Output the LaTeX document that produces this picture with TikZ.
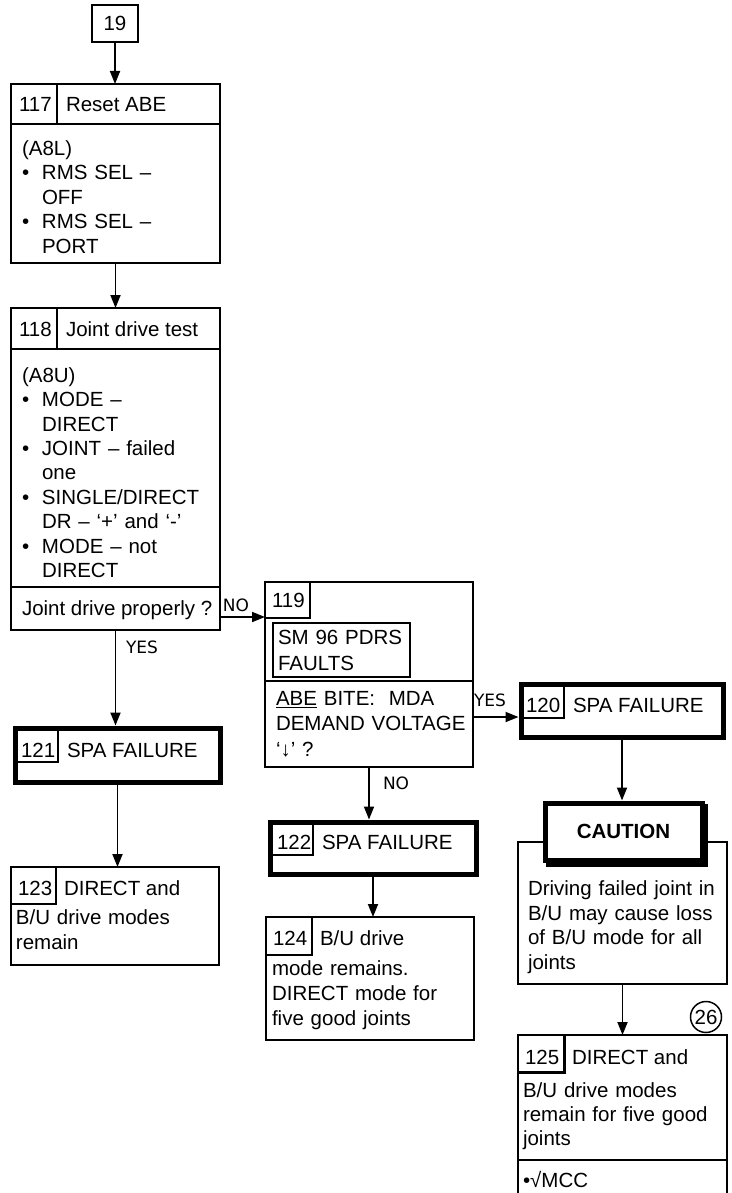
\documentclass[tikz,border=0pt]{standalone}
\usepackage{fontspec}
\setmainfont{Liberation Sans}
\newfontfamily\lblfont{DejaVu Sans}
\usetikzlibrary{arrows.meta}
\begin{document}
\begin{tikzpicture}[x=1pt,y=-1pt,
  every node/.style={inner sep=0pt, outer sep=0pt},
  txt/.style={anchor=base west, font=\fontsize{20.5}{24.5}\selectfont},
  blk/.style={anchor=base west, align=left, text width=200pt, font=\fontsize{20.5}{#1}\selectfont},
  box/.style={draw, line width=2pt, anchor=north west},
  thickbox/.style={draw, line width=5pt, anchor=north west, outer sep=2.5pt},
  thin/.style={line width=1.2pt},
  divider/.style={line width=2pt},
  arr/.style={line width=1.8pt, -{Triangle[length=13pt,width=10pt]}},
  lbl/.style={font=\lblfont\fontsize{17}{20}\selectfont},
]
\useasboundingbox (0,0) rectangle (731,1193);
\clip (0,0) rectangle (731,1193);
\fill[white] (0,0) rectangle (731,1193);

% ---- 19
\node[box, minimum width=46pt, minimum height=37pt, font=\fontsize{20.5}{24.5}\selectfont] (n19) at (92,5) {19};

% ---- 117
\node[box, minimum width=209pt, minimum height=179pt] (b117) at (11,84) {};
\draw[divider] (11,124) -- (220,124);
\draw[divider] (57,84) -- (57,124);
\node[txt] (h117n) at (19,111.3) {117};
\node[txt] (h117t) at (66,111.3) {Reset ABE};
\node[blk=24.5pt] (t117) at (22,155.3) {(A8L)\\
\makebox[20pt][l]{•}RMS SEL –\\
\hspace*{20pt}OFF\\
\makebox[20pt][l]{•}RMS SEL –\\
\hspace*{20pt}PORT};

% ---- 118
\node[box, minimum width=209pt, minimum height=322pt] (b118) at (11,308) {};
\draw[divider] (11,349) -- (220,349);
\draw[divider] (57,308) -- (57,349);
\draw[divider] (11,587) -- (220,587);
\node[txt] (h118n) at (19,336) {118};
\node[txt] (h118t) at (66,336) {Joint drive test};
\node[blk=24.4pt] (t118) at (22,382.3) {(A8U)\\
\makebox[20pt][l]{•}MODE –\\
\hspace*{20pt}DIRECT\\
\makebox[20pt][l]{•}JOINT – failed\\
\hspace*{20pt}one\\
\makebox[20pt][l]{•}SINGLE/DIRECT\\
\hspace*{20pt}DR – ‘+’ and ‘-’\\
\makebox[20pt][l]{•}MODE – not\\
\hspace*{20pt}DIRECT};
\node[txt] (q118) at (22,615.3) {Joint drive properly ?};

% ---- 119
\node[box, minimum width=208pt, minimum height=185pt] (b119) at (265,582) {};
\draw[thin] (265,618) -- (310,618) -- (310,582);
\node[txt] (h119n) at (272,607) {119};
\node[box, minimum width=137pt, minimum height=54pt] (sm96) at (273,623) {};
\node[blk=26pt] (tsm) at (278,644) {SM 96 PDRS\\FAULTS};
\draw[divider] (265,681) -- (473,681);
\node[blk=25.5pt] (q119) at (276,705.3) {\underline{ABE} BITE:\ \ MDA\\
DEMAND VOLTAGE\\
‘↓’ ?};

% ---- 120
\node[thickbox, minimum width=202pt, minimum height=53pt] (b120) at (518.5,681.5) {};
\draw[thin] (521,718) -- (564,718) -- (564,684);
\node[txt] (h120n) at (526,712) {120};
\node[txt] (h120t) at (573,712) {SPA FAILURE};

% ---- 121
\node[thickbox, minimum width=205pt, minimum height=54pt] (b121) at (12.5,725.5) {};
\draw[thin] (15,762) -- (58,762) -- (58,728);
\node[txt] (h121n) at (21,757) {121};
\node[txt] (h121t) at (67,757) {SPA FAILURE};

% ---- 122
\node[thickbox, minimum width=206pt, minimum height=52pt] (b122) at (267.5,819.5) {};
\draw[thin] (270,855) -- (313,855) -- (313,822);
\node[txt] (h122n) at (277,849) {122};
\node[txt] (h122t) at (322,849) {SPA FAILURE};

% ---- 123
\node[box, minimum width=208pt, minimum height=98pt] (b123) at (11,867) {};
\draw[thin] (11,904) -- (56,904) -- (56,867);
\node[txt] (h123n) at (18,895) {123};
\node[txt] (h123t) at (64,895) {DIRECT and};
\node[blk=25pt] (t123) at (16,924.3) {B/U drive modes\\remain};

% ---- 124
\node[box, minimum width=208pt, minimum height=123pt] (b124) at (266,917) {};
\draw[thin] (266,955) -- (312,955) -- (312,917);
\node[txt] (h124n) at (273,945) {124};
\node[txt] (h124t) at (320,945) {B/U drive};
\node[blk=25pt] (t124) at (272,975.3) {mode remains.\\DIRECT mode for\\five good joints};

% ---- caution
\node[box, minimum width=209pt, minimum height=142pt] (cbody) at (518,842) {};
\node[blk=24.8pt] (tcau) at (528,895.3) {Driving failed joint in\\B/U may cause loss\\of B/U mode for all\\joints};
\fill[black] (546,804) rectangle (708,867);
\node[draw, line width=5pt, fill=white, anchor=north west, outer sep=2.5pt, minimum width=157pt, minimum height=57pt, font=\bfseries\fontsize{20.5}{24.5}\selectfont] (caut) at (542.5,800.5) {CAUTION};

% ---- 125
\node[box, minimum width=209pt, minimum height=200pt] (b125) at (518,1035) {};
\draw[line width=3pt] (518,1072) -- (564,1072) -- (564,1035);
\node[txt] (h125n) at (525,1064) {125};
\node[txt] (h125t) at (572,1064) {DIRECT and};
\node[blk=24pt] (t125) at (523,1097.3) {B/U drive modes\\remain for five good\\joints};
\draw[divider] (518,1160) -- (727,1160);
\node[txt] (m125) at (523,1187) {•√MCC};
\node[draw, circle, line width=1.5pt, minimum size=31pt, font=\fontsize{20.5}{24.5}\selectfont] (c26) at (706,1017) {26};

% ---- connectors
\draw[arr] (n19.south) -- (n19.south |- b117.north);
\draw[arr] (b117.south) -- (b118.north);
\draw[arr] (b118.south) -- (b118.south |- b121.north);
\draw[arr] (b118.east |- 0,617) -- (b119.west |- 0,617);
\draw[arr] (b119.east |- 0,717) -- (b120.west |- 0,717);
\draw[arr] (b119.south) -- (b119.south |- b122.north);
\draw[arr] (b121.south) -- (b121.south |- b123.north);
\draw[arr] (b122.south) -- (b122.south |- b124.north);
\draw[arr] (b120.south) -- (b120.south |- caut.north);
\draw[arr] (cbody.south) -- (cbody.south |- b125.north);

% ---- labels
\node[lbl, anchor=west] (yes1) at (126,647) {YES};
\node[lbl] (no1) at (236,605) {NO};
\node[lbl, anchor=west] (no2) at (383,783) {NO};
\node[lbl, anchor=west] (yes2) at (474,700) {YES};
\end{tikzpicture}
\end{document}
